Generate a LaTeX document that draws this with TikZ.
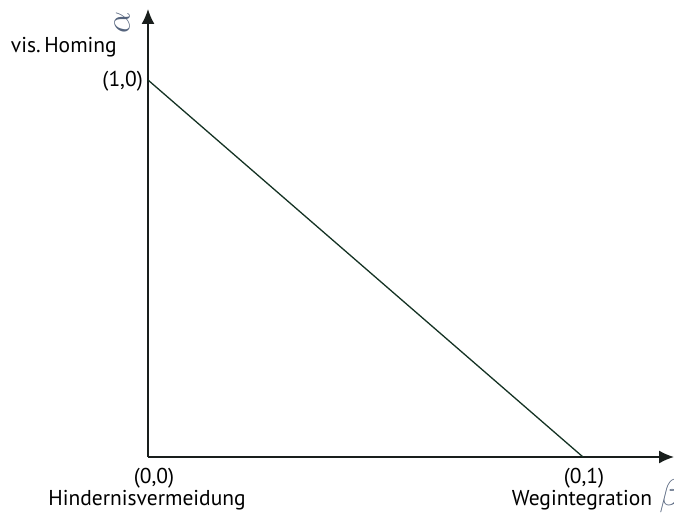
\documentclass[tikz,border=0pt]{standalone}
\usepackage{fontspec}
\setmainfont{PT Sans}
\usetikzlibrary{positioning,arrows.meta}
\definecolor{axGray}{RGB}{25,30,28}
\definecolor{lnGreen}{RGB}{20,50,35}
\definecolor{hwBlue}{RGB}{85,100,125}

\begin{document}
\begin{tikzpicture}[x=1pt,y=-1pt,font=\fontsize{21.5}{24}\selectfont]
  \useasboundingbox (0,0) rectangle (674,513);

  % Axes
  \coordinate (O) at (148,457);
  \coordinate (ytip) at (148,9);
  \coordinate (xtip) at (674,457);
  \draw[-{Latex[length=15pt,width=13pt]}, axGray, line width=1.5pt] (O) -- (ytip);
  \draw[-{Latex[length=15pt,width=13pt]}, axGray, line width=1.5pt] (O) -- (xtip);

  % Corner points
  \coordinate (p10) at (148,80);
  \coordinate (p01) at (583,457);
  \draw[lnGreen, line width=1.3pt] (p10) -- (p01);

  % Labels
  \node[anchor=base east, inner sep=0pt] (l10) at (143,87) {(1,0)};
  \node[anchor=base, inner sep=0pt] (l00) at (154,483) {(0,0)};
  \node[anchor=base, inner sep=0pt] (hind) at (147,505) {Hindernisvermeidung};
  \node[anchor=base, inner sep=0pt] (l01) at (584,483) {(0,1)};
  \node[anchor=base, inner sep=0pt] (weg) at (582,505) {Wegintegration};
  \node[anchor=base east, inner sep=0pt] (homing) at (117,53) {vis.\,Homing};

  % Axis names
  \node[hwBlue, rotate=90, scale=1.4, transform shape, inner sep=0pt] (alpha) at (122,23) {\fontsize{24}{24}\selectfont$\alpha$};
  \node[hwBlue, scale=1.5, transform shape, inner sep=0pt, anchor=west] (beta) at (659,496) {\fontsize{24}{24}\selectfont$\beta$};
\end{tikzpicture}
\end{document}
